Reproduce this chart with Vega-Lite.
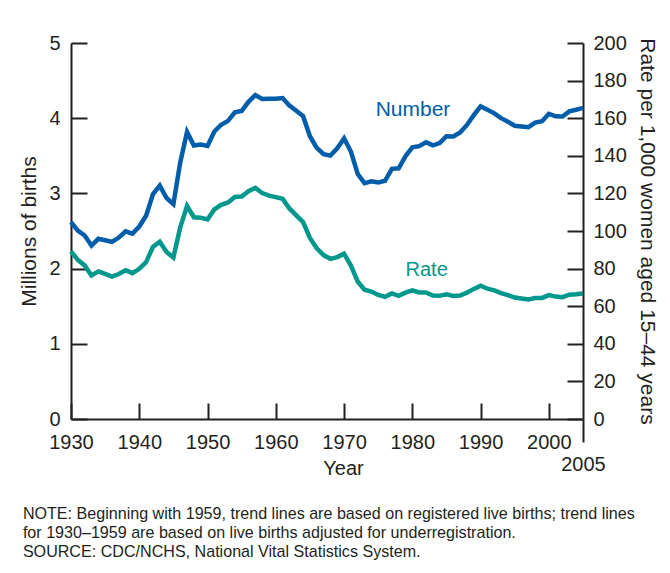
{
  "$schema": "https://vega.github.io/schema/vega-lite/v6.json",
  "width": 512,
  "height": 376,
  "autosize": "none",
  "padding": {"left": 71, "top": 43, "right": 87, "bottom": 154},
  "background": "white",
  "config": {
    "view": {"stroke": null},
    "font": "Liberation Sans",
    "axis": {
      "domainColor": "#231f20", "domainWidth": 2,
      "tickColor": "#231f20", "tickWidth": 2,
      "labelColor": "#231f20", "titleColor": "#231f20",
      "labelFontSize": 20, "titleFontSize": 21, "titleFontWeight": "normal",
      "labelFont": "Liberation Sans", "titleFont": "Liberation Sans",
      "grid": false, "labelFlush": false
    }
  },
  "title": {
    "text": [
      "NOTE: Beginning with 1959, trend lines are based on registered live births; trend lines",
      "for 1930–1959 are based on live births adjusted for underregistration.",
      "SOURCE: CDC/NCHS, National Vital Statistics System."
    ],
    "orient": "bottom", "anchor": "start", "fontSize": 16.1, "fontWeight": "normal",
    "font": "Liberation Sans", "color": "#231f20", "lineHeight": 19, "offset": 28, "dx": 4
  },
  "datasets": {
    "births": [
      {"year": 1930, "births": 2.618, "rate": 89.2},
      {"year": 1931, "births": 2.506, "rate": 84.6},
      {"year": 1932, "births": 2.440, "rate": 81.7},
      {"year": 1933, "births": 2.307, "rate": 76.3},
      {"year": 1934, "births": 2.396, "rate": 78.5},
      {"year": 1935, "births": 2.377, "rate": 77.2},
      {"year": 1936, "births": 2.355, "rate": 75.8},
      {"year": 1937, "births": 2.413, "rate": 77.1},
      {"year": 1938, "births": 2.496, "rate": 79.1},
      {"year": 1939, "births": 2.466, "rate": 77.6},
      {"year": 1940, "births": 2.559, "rate": 79.9},
      {"year": 1941, "births": 2.703, "rate": 83.4},
      {"year": 1942, "births": 2.989, "rate": 91.5},
      {"year": 1943, "births": 3.104, "rate": 94.3},
      {"year": 1944, "births": 2.939, "rate": 88.8},
      {"year": 1945, "births": 2.858, "rate": 85.9},
      {"year": 1946, "births": 3.411, "rate": 101.9},
      {"year": 1947, "births": 3.817, "rate": 113.3},
      {"year": 1948, "births": 3.637, "rate": 107.3},
      {"year": 1949, "births": 3.649, "rate": 107.1},
      {"year": 1950, "births": 3.632, "rate": 106.2},
      {"year": 1951, "births": 3.823, "rate": 111.5},
      {"year": 1952, "births": 3.913, "rate": 113.9},
      {"year": 1953, "births": 3.965, "rate": 115.2},
      {"year": 1954, "births": 4.078, "rate": 118.1},
      {"year": 1955, "births": 4.097, "rate": 118.3},
      {"year": 1956, "births": 4.218, "rate": 121.2},
      {"year": 1957, "births": 4.308, "rate": 122.9},
      {"year": 1958, "births": 4.255, "rate": 120.2},
      {"year": 1959, "births": 4.260, "rate": 118.8},
      {"year": 1960, "births": 4.258, "rate": 118.0},
      {"year": 1961, "births": 4.268, "rate": 117.1},
      {"year": 1962, "births": 4.167, "rate": 112.0},
      {"year": 1963, "births": 4.098, "rate": 108.3},
      {"year": 1964, "births": 4.027, "rate": 104.7},
      {"year": 1965, "births": 3.760, "rate": 96.3},
      {"year": 1966, "births": 3.606, "rate": 90.8},
      {"year": 1967, "births": 3.521, "rate": 87.2},
      {"year": 1968, "births": 3.502, "rate": 85.2},
      {"year": 1969, "births": 3.600, "rate": 86.1},
      {"year": 1970, "births": 3.731, "rate": 87.9},
      {"year": 1971, "births": 3.556, "rate": 81.6},
      {"year": 1972, "births": 3.258, "rate": 73.1},
      {"year": 1973, "births": 3.137, "rate": 68.8},
      {"year": 1974, "births": 3.160, "rate": 67.8},
      {"year": 1975, "births": 3.144, "rate": 66.0},
      {"year": 1976, "births": 3.168, "rate": 65.0},
      {"year": 1977, "births": 3.327, "rate": 66.8},
      {"year": 1978, "births": 3.333, "rate": 65.5},
      {"year": 1979, "births": 3.494, "rate": 67.2},
      {"year": 1980, "births": 3.612, "rate": 68.4},
      {"year": 1981, "births": 3.629, "rate": 67.3},
      {"year": 1982, "births": 3.681, "rate": 67.3},
      {"year": 1983, "births": 3.639, "rate": 65.7},
      {"year": 1984, "births": 3.669, "rate": 65.5},
      {"year": 1985, "births": 3.761, "rate": 66.3},
      {"year": 1986, "births": 3.757, "rate": 65.4},
      {"year": 1987, "births": 3.809, "rate": 65.7},
      {"year": 1988, "births": 3.910, "rate": 67.2},
      {"year": 1989, "births": 4.041, "rate": 69.2},
      {"year": 1990, "births": 4.158, "rate": 70.9},
      {"year": 1991, "births": 4.111, "rate": 69.3},
      {"year": 1992, "births": 4.065, "rate": 68.4},
      {"year": 1993, "births": 4.000, "rate": 67.0},
      {"year": 1994, "births": 3.953, "rate": 65.9},
      {"year": 1995, "births": 3.900, "rate": 64.6},
      {"year": 1996, "births": 3.891, "rate": 64.1},
      {"year": 1997, "births": 3.881, "rate": 63.6},
      {"year": 1998, "births": 3.942, "rate": 64.3},
      {"year": 1999, "births": 3.959, "rate": 64.4},
      {"year": 2000, "births": 4.059, "rate": 65.9},
      {"year": 2001, "births": 4.026, "rate": 65.1},
      {"year": 2002, "births": 4.022, "rate": 64.8},
      {"year": 2003, "births": 4.090, "rate": 66.1},
      {"year": 2004, "births": 4.112, "rate": 66.3},
      {"year": 2005, "births": 4.138, "rate": 66.7}
    ],
    "labels": [
      {"series": "Number", "year": 1980.1, "births": 4.11},
      {"series": "Rate", "year": 1982.1, "rate": 79.3}
    ]
  },
  "layer": [
    {
      "encoding": {
        "x": {
          "field": "year", "type": "quantitative",
          "scale": {"domain": [1930, 2005], "nice": false, "zero": false},
          "axis": {
            "values": [1930, 1940, 1950, 1960, 1970, 1980, 1990, 2000],
            "format": "d", "tickSize": -16, "labelPadding": 29,
            "title": "Year", "titleFontSize": 20, "titleX": 272, "titlePadding": 6
          }
        },
        "y": {
          "field": "births", "type": "quantitative",
          "scale": {"domain": [0, 5], "nice": false},
          "axis": {
            "orient": "left", "values": [0, 1, 2, 3, 4, 5],
            "tickSize": -16, "labelPadding": 27,
            "title": "Millions of births", "titlePadding": 9
          }
        }
      },
      "layer": [
        {
          "data": {"name": "births"},
          "mark": {"type": "line", "color": "#005daa", "strokeWidth": 4.5}
        },
        {
          "data": {"name": "labels"},
          "transform": [{"filter": "datum.series === 'Number'"}],
          "mark": {"type": "text", "color": "#005daa", "fontSize": 21, "font": "Liberation Sans", "align": "center", "baseline": "middle"},
          "encoding": {"text": {"field": "series"}}
        }
      ]
    },
    {
      "encoding": {
        "x": {
          "field": "year", "type": "quantitative",
          "axis": {
            "orient": "bottom", "values": [2005], "format": "d",
            "tickSize": 23, "labelPadding": 12, "domain": false, "title": null
          }
        },
        "y": {
          "field": "rate", "type": "quantitative",
          "scale": {"domain": [0, 200], "nice": false},
          "axis": {
            "orient": "right", "values": [0, 20, 40, 60, 80, 100, 120, 140, 160, 180, 200],
            "tickSize": -16, "labelPadding": 26,
            "title": "Rate per 1,000 women aged 15–44 years", "titlePadding": 10
          }
        }
      },
      "layer": [
        {
          "data": {"name": "births"},
          "mark": {"type": "line", "color": "#00978c", "strokeWidth": 4.5}
        },
        {
          "data": {"name": "labels"},
          "transform": [{"filter": "datum.series === 'Rate'"}],
          "mark": {"type": "text", "color": "#00978c", "fontSize": 20, "font": "Liberation Sans", "align": "center", "baseline": "middle"},
          "encoding": {"text": {"field": "series"}}
        }
      ]
    }
  ],
  "resolve": {"scale": {"y": "independent"}, "axis": {"x": "independent"}}
}
